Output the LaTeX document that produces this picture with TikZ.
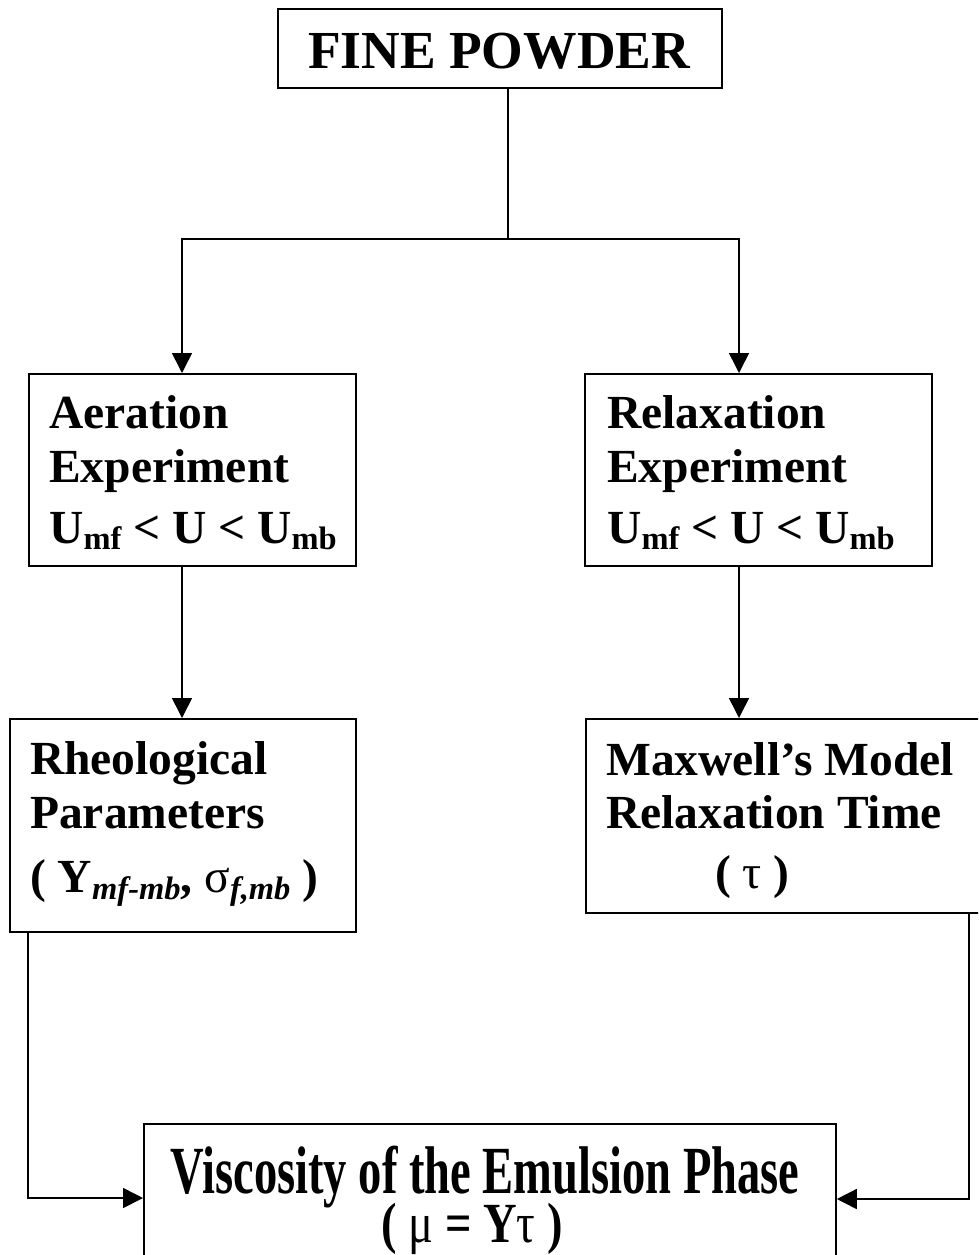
\documentclass[tikz,border=0pt]{standalone}
\usepackage{fontspec}
\setmainfont{Liberation Serif}
\usetikzlibrary{arrows.meta}
\newcommand{\sbs}[1]{\raisebox{-6pt}{\fontsize{32.5}{33}\selectfont #1}}
\newcommand{\sbi}[1]{\raisebox{-7pt}{\fontsize{32.5}{33}\selectfont\itshape #1}}
\begin{document}
\begin{tikzpicture}[x=1pt,y=-1pt,
  box/.style={draw, line width=1.8pt, inner sep=0pt, anchor=north west},
  txt/.style={anchor=base west, inner sep=0pt, font=\fontsize{47.5}{57}\bfseries\selectfont},
  ctxt/.style={anchor=base, inner sep=0pt, font=\fontsize{46.5}{54}\bfseries\selectfont},
  conn/.style={line width=1.6pt},
  arr/.style={conn, -{Triangle[length=20pt,width=20pt]}}]
\useasboundingbox (0,0) rectangle (978,1255);
\clip (0,0) rectangle (978,1255);
\fill[white] (0,0) rectangle (978,1255);

% boxes
\node[box, minimum width=444pt, minimum height=79pt] (fp) at (277,8) {};
\node[box, minimum width=327pt, minimum height=192pt] (ae) at (28,373) {};
\node[box, minimum width=347pt, minimum height=192pt] (re) at (584,373) {};
\node[box, minimum width=346pt, minimum height=213pt] (rh) at (9,718) {};
\node[box, minimum width=400pt, minimum height=194pt] (mx) at (585,718) {};
\node[box, minimum width=692pt, minimum height=150pt] (vi) at (143,1123) {};

% texts
\node[anchor=base, inner sep=0pt, font=\fontsize{53.5}{60}\bfseries\selectfont] (fpt) at (499,68) {FINE POWDER};

\node[txt] (ae1) at (49,428) {Aeration};
\node[txt] (ae2) at (49,482) {Experiment};
\node[txt] (ae3) at (49,543) {U\sbs{mf} < U < U\sbs{mb}};

\node[txt] (re1) at (607,428) {Relaxation};
\node[txt] (re2) at (607,482) {Experiment};
\node[txt] (re3) at (607,543) {U\sbs{mf} < U < U\sbs{mb}};

\node[txt] (rh1) at (30,774) {Rheological};
\node[txt] (rh2) at (30,828) {Parameters};
\node[txt] (rh3) at (30,892) {( Y\sbi{mf-mb}, {\mdseries σ}\sbi{f,mb} )};

\node[txt] (mx1) at (606,775) {Maxwell’s Model};
\node[txt] (mx2) at (606,828) {Relaxation Time};
\node[txt] (mx3) at (715,888) {( {\mdseries τ} )};

\node[ctxt] (vi1) at (485,1193) {\scalebox{1}[1.45]{Viscosity of the Emulsion Phase}};
\node[ctxt] (vi2) at (472,1242) {\scalebox{1}[1.22]{( {\mdseries μ} = Y{\mdseries τ} )}};

% connectors
\coordinate (j) at (508,239);
\coordinate (ca) at (182,0);
\coordinate (cr) at (739,0);
\coordinate (cl) at (28,1198);
\coordinate (cm) at (969,1199);
\draw[conn] (fp.south -| j) -- (j);
\draw[arr] (j) -| (ca |- ae.north);
\draw[arr] (j) -| (cr |- re.north);
\draw[arr] (ca |- ae.south) -- (ca |- rh.north);
\draw[arr] (cr |- re.south) -- (cr |- mx.north);
\draw[arr] (cl |- rh.south) -- (cl) -- (cl -| vi.west);
\draw[arr] (cm |- mx.south) -- (cm) -- (cm -| vi.east);
\end{tikzpicture}
\end{document}
